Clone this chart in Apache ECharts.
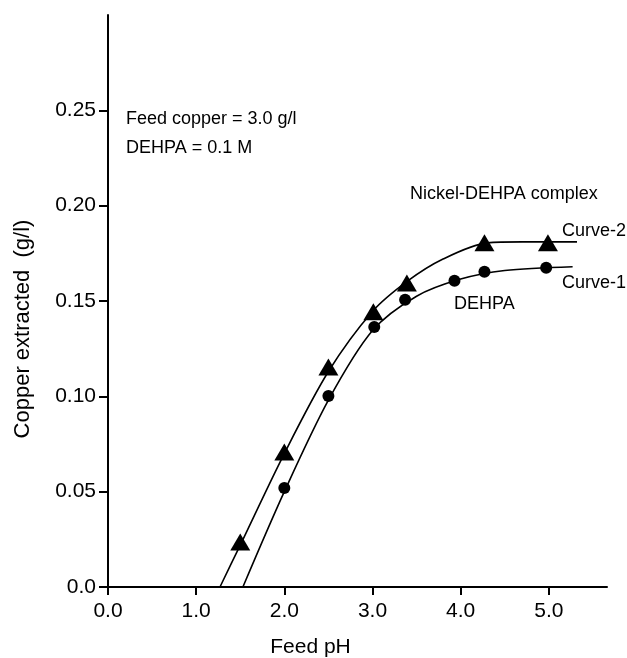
<!DOCTYPE html>
<html lang="en">
<head>
    <meta charset="UTF-8">
    <title>Copper extracted vs feed pH</title>
    <script src="https://cdn.jsdelivr.net/npm/echarts@6/dist/echarts.min.js"></script>
    <style>
        html, body { margin: 0; padding: 0; background: #fff; }
    </style>
</head>
<body>
    <div id="main" style="width: 627px;height:658px;"></div>
    <script type="text/javascript">
        var myChart = echarts.init(document.getElementById('main'));

        // measured points, Curve-2 (Nickel-DEHPA complex)
        var curve2Points = [[1.5, 0.0236], [2.0, 0.0708], [2.5, 0.1154], [3.01, 0.1443],
            [3.39, 0.1595], [4.27, 0.1805], [4.99, 0.1805]];
        // measured points, Curve-1 (DEHPA)
        var curve1Points = [[2.0, 0.0519], [2.5, 0.1002], [3.02, 0.1364], [3.37, 0.1506],
            [3.93, 0.1606], [4.27, 0.1653], [4.97, 0.1674]];
        // fitted curves
        var curve2Fit = [[1.27, 0], [1.5, 0.022], [2.0, 0.07], [2.5, 0.113], [3.0, 0.1445],
            [3.4, 0.1605], [3.8, 0.172], [4.3, 0.1805], [4.7, 0.181], [5.32, 0.181]];
        var curve1Fit = [[1.53, 0], [2.0, 0.05], [2.5, 0.098], [3.0, 0.1345], [3.5, 0.1525],
            [4.0, 0.1615], [4.5, 0.1660], [5.27, 0.168]];
        // tick labels
        var xTicks = [0, 1, 2, 3, 4, 5];
        var yTicks = [0, 0.05, 0.10, 0.15, 0.20, 0.25];

        var font = 'Liberation Sans, Arial, sans-serif';

        option = {
            animation: false,
            grid: {
                left: 108,
                right: 20,
                top: 15,
                bottom: 71,
                outerBoundsMode: 'none'
            },
            xAxis: {
                type: 'value',
                min: 0,
                max: 5.66,
                name: 'Feed pH',
                nameLocation: 'middle',
                nameGap: 50,
                nameTextStyle: { color: '#000', fontSize: 21, fontFamily: font, padding: [0, 94, 0, 0] },
                axisLine: { show: true, lineStyle: { color: '#000', width: 2 } },
                axisTick: { show: true, length: 8, customValues: xTicks, lineStyle: { color: '#000', width: 2 } },
                axisLabel: {
                    customValues: xTicks,
                    margin: 14,
                    color: '#000',
                    fontSize: 21,
                    fontFamily: font,
                    formatter: function (v) { return v.toFixed(1); }
                },
                splitLine: { show: false }
            },
            yAxis: {
                type: 'value',
                min: 0,
                max: 0.30,
                name: 'Copper extracted  (g/l)',
                nameLocation: 'middle',
                nameGap: 74,
                nameTextStyle: { color: '#000', fontSize: 22, fontFamily: font, padding: [0, 56, 0, 0] },
                axisLine: { show: true, lineStyle: { color: '#000', width: 2 } },
                axisTick: { show: true, length: 9, customValues: yTicks, lineStyle: { color: '#000', width: 2 } },
                axisLabel: {
                    customValues: yTicks,
                    margin: 12,
                    color: '#000',
                    fontSize: 21,
                    fontFamily: font,
                    formatter: function (v) { return v === 0 ? '0.0' : v.toFixed(2); }
                },
                splitLine: { show: false }
            },
            graphic: [
                { type: 'text', left: 126, top: 110, style: { text: 'Feed copper = 3.0 g/l', fontSize: 18, fontFamily: font, fill: '#000' } },
                { type: 'text', left: 126, top: 139, style: { text: 'DEHPA = 0.1 M', fontSize: 18, fontFamily: font, fill: '#000' } },
                { type: 'text', left: 410, top: 185, style: { text: 'Nickel-DEHPA complex', fontSize: 18, fontFamily: font, fill: '#000' } },
                { type: 'text', left: 562, top: 222, style: { text: 'Curve-2', fontSize: 18, fontFamily: font, fill: '#000' } },
                { type: 'text', left: 562, top: 274, style: { text: 'Curve-1', fontSize: 18, fontFamily: font, fill: '#000' } },
                { type: 'text', left: 454, top: 295, style: { text: 'DEHPA', fontSize: 18, fontFamily: font, fill: '#000' } }
            ],
            series: [
                {
                    name: 'Curve-2 fit',
                    type: 'line',
                    smooth: 0.3,
                    showSymbol: false,
                    lineStyle: { color: '#000', width: 1.6 },
                    data: curve2Fit
                },
                {
                    name: 'Curve-1 fit',
                    type: 'line',
                    smooth: 0.3,
                    showSymbol: false,
                    lineStyle: { color: '#000', width: 1.6 },
                    data: curve1Fit
                },
                {
                    name: 'Nickel-DEHPA complex',
                    type: 'scatter',
                    symbol: 'triangle',
                    symbolSize: [20, 17],
                    itemStyle: { color: '#000', opacity: 1 },
                    data: curve2Points
                },
                {
                    name: 'DEHPA',
                    type: 'scatter',
                    symbol: 'circle',
                    symbolSize: 12,
                    itemStyle: { color: '#000', opacity: 1 },
                    data: curve1Points
                }
            ]
        };

        myChart.setOption(option);
    </script>
</body>
</html>
